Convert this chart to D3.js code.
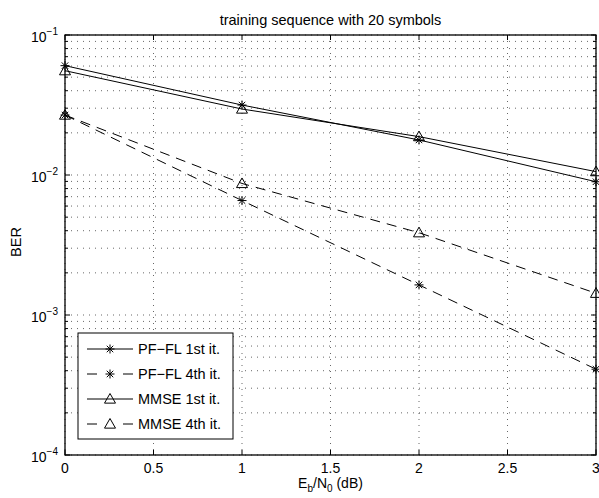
<!DOCTYPE html>
<html>
<head>
<meta charset="utf-8">
<script src="https://cdn.jsdelivr.net/npm/d3@7"></script>
<style>
  body { margin: 0; background: #fff; }
  svg text { font-family: "Liberation Sans", Arial, sans-serif; fill: #000; }
</style>
</head>
<body>
<div id="chart"></div>
<script>
// data
const ebn0 = [0, 1, 2, 3];
const pfFl1st = [0.0604, 0.0316, 0.0178, 0.00895];
const pfFl4th = [0.0268, 0.00657, 0.00164, 0.00041];
const mmse1st = [0.0556, 0.0296, 0.0188, 0.01057];
const mmse4th = [0.0268, 0.0087, 0.00387, 0.00143];
const xTicks = [0, 0.5, 1, 1.5, 2, 2.5, 3];
const yDecades = [-4, -3, -2, -1];

const series = [
    { name: "PF\u2212FL 1st it.", values: pfFl1st, dashed: false, marker: "star" },
    { name: "PF\u2212FL 4th it.", values: pfFl4th, dashed: true, marker: "star" },
    { name: "MMSE 1st it.", values: mmse1st, dashed: false, marker: "tri" },
    { name: "MMSE 4th it.", values: mmse4th, dashed: true, marker: "tri" }
];

const W = 599, H = 498;
const margin = { top: 35, right: 3, bottom: 43, left: 65 };
const width = W - margin.left - margin.right;
const height = H - margin.top - margin.bottom;

const svg = d3.select("#chart").append("svg")
    .attr("width", W).attr("height", H)
  .append("g")
    .attr("transform", "translate(" + margin.left + "," + margin.top + ")");

const x = d3.scaleLinear().domain([0, 3]).range([0, width]);
const y = d3.scaleLog().domain([1e-4, 1e-1]).range([height, 0]);

// minor / major log ticks
const yMinor = [];
yDecades.slice(0, 3).forEach(function(e) {
    for (let k = 2; k <= 9; k++) yMinor.push(k * Math.pow(10, e));
});
const yMajor = yDecades.map(function(e) { return Math.pow(10, e); });

// grid
const grid = svg.append("g")
    .attr("stroke", "#000").attr("stroke-width", 0.6)
    .attr("stroke-dasharray", "1,5");
grid.selectAll(".gy").data(yMajor.concat(yMinor)).enter().append("line")
    .attr("x1", 0).attr("x2", width)
    .attr("y1", function(d) { return y(d); }).attr("y2", function(d) { return y(d); });
grid.selectAll(".gx").data(xTicks).enter().append("line")
    .attr("y1", 0).attr("y2", height)
    .attr("x1", function(d) { return x(d); }).attr("x2", function(d) { return x(d); });

// inward ticks on all four sides
const ticks = svg.append("g").attr("stroke", "#000").attr("stroke-width", 1);
xTicks.forEach(function(t) {
    ticks.append("line").attr("x1", x(t)).attr("x2", x(t)).attr("y1", height).attr("y2", height - 5);
    ticks.append("line").attr("x1", x(t)).attr("x2", x(t)).attr("y1", 0).attr("y2", 5);
});
yMajor.forEach(function(t) {
    ticks.append("line").attr("x1", 0).attr("x2", 5).attr("y1", y(t)).attr("y2", y(t));
    ticks.append("line").attr("x1", width).attr("x2", width - 5).attr("y1", y(t)).attr("y2", y(t));
});
yMinor.forEach(function(t) {
    ticks.append("line").attr("x1", 0).attr("x2", 3).attr("y1", y(t)).attr("y2", y(t));
    ticks.append("line").attr("x1", width).attr("x2", width - 3).attr("y1", y(t)).attr("y2", y(t));
});

// box
svg.append("rect")
    .attr("width", width).attr("height", height)
    .attr("fill", "none").attr("stroke", "#000").attr("stroke-width", 1.3);

// tick labels
svg.selectAll(".xl").data(xTicks).enter().append("text")
    .attr("x", function(d) { return x(d); })
    .attr("y", height + 18)
    .attr("text-anchor", "middle")
    .attr("font-size", 14)
    .text(function(d) { return d; });

const yl = svg.selectAll(".yl").data(yDecades).enter().append("text")
    .attr("x", -7)
    .attr("y", function(d) { return y(Math.pow(10, d)) + 6.5; })
    .attr("text-anchor", "end")
    .attr("font-size", 14);
yl.append("tspan").text("10");
yl.append("tspan").attr("dy", -7).attr("font-size", 10)
    .text(function(d) { return "\u2212" + Math.abs(d); });

// titles
svg.append("text")
    .attr("x", width / 2).attr("y", -10)
    .attr("text-anchor", "middle").attr("font-size", 14.5)
    .text("training sequence with 20 symbols");

const xLabel = svg.append("text")
    .attr("x", width / 2).attr("y", height + 33)
    .attr("text-anchor", "middle").attr("font-size", 14);
xLabel.append("tspan").text("E");
xLabel.append("tspan").attr("dy", 4).attr("font-size", 10).text("b");
xLabel.append("tspan").attr("dy", -4).text("/N");
xLabel.append("tspan").attr("dy", 4).attr("font-size", 10).text("0");
xLabel.append("tspan").attr("dy", -4).text(" (dB)");

svg.append("text")
    .attr("transform", "translate(" + (-44) + "," + (height / 2 - 3) + ") rotate(-90)")
    .attr("text-anchor", "middle").attr("font-size", 14.5)
    .text("BER");

// markers
function drawMarker(g, kind, cx, cy) {
    if (kind === "star") {
        const r = 4.5;
        const p = g.append("g").attr("stroke", "#000").attr("stroke-width", 1);
        [[r, 0], [0, r], [r * 0.72, r * 0.72], [r * 0.72, -r * 0.72]].forEach(function(v) {
            p.append("line").attr("x1", cx - v[0]).attr("y1", cy - v[1])
                .attr("x2", cx + v[0]).attr("y2", cy + v[1]);
        });
    } else {
        const s = 5.5;
        g.append("path")
            .attr("d", "M" + cx + "," + (cy - s) + "L" + (cx + s) + "," + (cy + s * 0.75) +
                "L" + (cx - s) + "," + (cy + s * 0.75) + "Z")
            .attr("fill", "none").attr("stroke", "#000").attr("stroke-width", 1);
    }
}

const line = d3.line()
    .x(function(d, i) { return x(ebn0[i]); })
    .y(function(d) { return y(d); });

series.forEach(function(s) {
    const g = svg.append("g");
    g.append("path")
        .datum(s.values)
        .attr("d", line)
        .attr("fill", "none").attr("stroke", "#000").attr("stroke-width", 1)
        .attr("stroke-dasharray", s.dashed ? "10,7" : null);
    s.values.forEach(function(v, i) { drawMarker(g, s.marker, x(ebn0[i]), y(v)); });
});

// legend
const legend = svg.append("g").attr("transform", "translate(13,298)");
legend.append("rect")
    .attr("width", 155).attr("height", 106)
    .attr("fill", "#fff").attr("stroke", "#000").attr("stroke-width", 1);
series.forEach(function(s, i) {
    const ly = 16 + i * 25;
    const g = legend.append("g");
    g.append("line")
        .attr("x1", 9).attr("x2", 55).attr("y1", ly).attr("y2", ly)
        .attr("stroke", "#000").attr("stroke-width", 1)
        .attr("stroke-dasharray", s.dashed ? "10,26" : null);
    drawMarker(g, s.marker, 32, ly);
    g.append("text")
        .attr("x", 60).attr("y", ly + 5)
        .attr("font-size", 14.5)
        .text(s.name);
});
</script>
</body>
</html>
